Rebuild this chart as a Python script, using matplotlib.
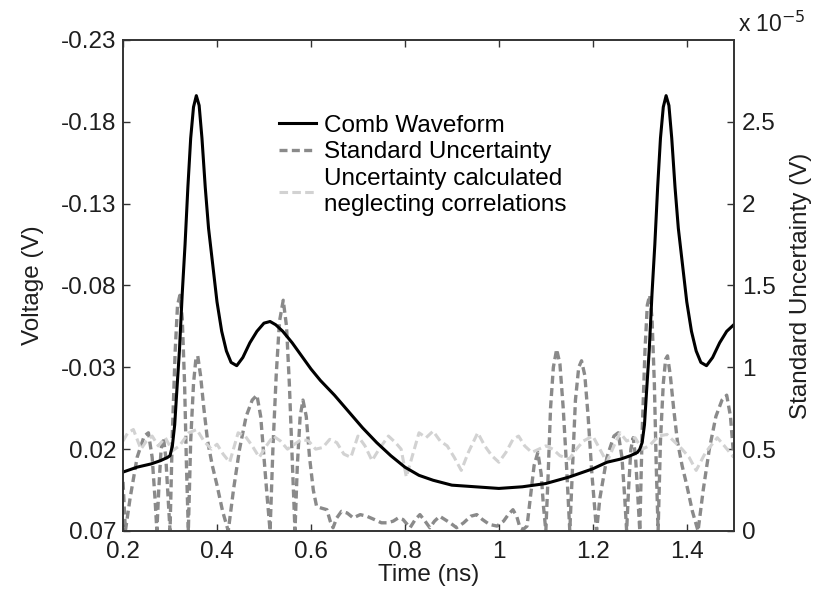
import matplotlib
matplotlib.use('Agg')
from matplotlib import pyplot as plt

plt.rcParams['font.family'] = ['Liberation Sans', 'DejaVu Sans']

# comb waveform (left axis, V)
t_comb = [0.200, 0.230, 0.260, 0.280, 0.295, 0.300, 0.305, 0.310, 0.315, 0.320,
          0.326, 0.332, 0.338, 0.344, 0.350, 0.356, 0.362, 0.368, 0.375, 0.382,
          0.390, 0.400, 0.410, 0.420, 0.430, 0.442, 0.455, 0.470, 0.485, 0.500,
          0.513, 0.525, 0.540, 0.560, 0.580, 0.600, 0.620, 0.650, 0.680, 0.710,
          0.740, 0.770, 0.800, 0.830, 0.860, 0.900, 0.950, 1.000, 1.050, 1.100,
          1.150, 1.200, 1.230, 1.260, 1.280, 1.295, 1.300, 1.305, 1.310, 1.315,
          1.320, 1.326, 1.332, 1.338, 1.344, 1.350, 1.356, 1.362, 1.368, 1.375,
          1.382, 1.390, 1.400, 1.410, 1.420, 1.430, 1.442, 1.455, 1.470, 1.485,
          1.500]
v_comb = [0.034, 0.031, 0.029, 0.027, 0.025, 0.024, 0.018, 0.005, -0.018, -0.040,
          -0.075, -0.105, -0.140, -0.170, -0.189, -0.196, -0.190, -0.170, -0.140, -0.115,
          -0.095, -0.070, -0.052, -0.040, -0.033, -0.031, -0.036, -0.045, -0.052, -0.057,
          -0.058, -0.056, -0.052, -0.045, -0.037, -0.029, -0.022, -0.013, -0.003, 0.007,
          0.016, 0.024, 0.031, 0.036, 0.039, 0.042, 0.043, 0.044, 0.043, 0.041,
          0.037, 0.032, 0.028, 0.026, 0.024, 0.022, 0.020, 0.016, 0.005, -0.018,
          -0.040, -0.075, -0.105, -0.140, -0.170, -0.189, -0.196, -0.190, -0.170, -0.140,
          -0.115, -0.095, -0.070, -0.052, -0.040, -0.033, -0.031, -0.036, -0.045, -0.052,
          -0.056]

# standard uncertainty (right axis, x 1e-5 V)
t_std = [0.200, 0.205, 0.215, 0.230, 0.245, 0.254, 0.262, 0.268, 0.272, 0.276,
         0.281, 0.286, 0.291, 0.296, 0.300, 0.305, 0.311, 0.316, 0.321, 0.326,
         0.331, 0.335, 0.339, 0.344, 0.350, 0.355, 0.359, 0.365, 0.372, 0.380,
         0.390, 0.400, 0.412, 0.424, 0.435, 0.448, 0.462, 0.475, 0.485, 0.493,
         0.500, 0.507, 0.513, 0.519, 0.526, 0.533, 0.541, 0.548, 0.554, 0.560,
         0.566, 0.571, 0.577, 0.583, 0.590, 0.597, 0.605, 0.612, 0.622, 0.634,
         0.641, 0.647, 0.655, 0.665, 0.677, 0.690, 0.705, 0.719, 0.735, 0.750,
         0.762, 0.775, 0.786, 0.796, 0.811, 0.822, 0.832, 0.843, 0.853, 0.863,
         0.874, 0.885, 0.896, 0.910, 0.925, 0.940, 0.953, 0.965, 0.980, 0.996,
         1.010, 1.020, 1.030, 1.038, 1.045, 1.052, 1.060, 1.067, 1.075, 1.083,
         1.090, 1.095, 1.100, 1.105, 1.110, 1.116, 1.123, 1.130, 1.137, 1.144,
         1.151, 1.157, 1.163, 1.170, 1.176, 1.183, 1.190, 1.198, 1.208, 1.215,
         1.230, 1.245, 1.254, 1.262, 1.268, 1.272, 1.276, 1.281, 1.286, 1.291,
         1.296, 1.300, 1.305, 1.311, 1.316, 1.321, 1.326, 1.331, 1.335, 1.339,
         1.344, 1.350, 1.355, 1.359, 1.365, 1.372, 1.380, 1.390, 1.400, 1.412,
         1.424, 1.435, 1.448, 1.462, 1.475, 1.485, 1.493, 1.500]
u_std = [0.30, 0.00, 0.20, 0.45, 0.58, 0.60, 0.45, 0.20, 0.00, 0.25,
         0.50, 0.57, 0.45, 0.20, 0.00, 0.60, 1.10, 1.38, 1.44, 1.30,
         0.90, 0.40, 0.00, 0.55, 0.90, 1.05, 1.07, 0.95, 0.75, 0.55,
         0.40, 0.28, 0.12, 0.00, 0.25, 0.50, 0.70, 0.80, 0.83, 0.70,
         0.45, 0.20, 0.00, 0.50, 0.95, 1.28, 1.41, 1.25, 0.90, 0.45,
         0.00, 0.40, 0.70, 0.80, 0.70, 0.45, 0.25, 0.15, 0.14, 0.13,
         0.06, 0.02, 0.08, 0.12, 0.11, 0.08, 0.10, 0.09, 0.07, 0.05,
         0.05, 0.06, 0.08, 0.07, 0.02, 0.07, 0.10, 0.06, 0.02, 0.06,
         0.09, 0.07, 0.05, 0.02, 0.05, 0.09, 0.10, 0.07, 0.04, 0.03,
         0.06, 0.10, 0.13, 0.09, 0.02, 0.01, 0.03, 0.20, 0.40, 0.48,
         0.35, 0.15, 0.00, 0.35, 0.75, 1.00, 1.11, 1.02, 0.75, 0.40,
         0.00, 0.40, 0.80, 1.00, 1.04, 0.95, 0.70, 0.35, 0.00, 0.20,
         0.45, 0.58, 0.60, 0.45, 0.20, 0.00, 0.25, 0.50, 0.57, 0.45,
         0.20, 0.00, 0.60, 1.10, 1.38, 1.44, 1.30, 0.90, 0.40, 0.00,
         0.55, 0.90, 1.05, 1.07, 0.95, 0.75, 0.55, 0.40, 0.28, 0.12,
         0.00, 0.25, 0.50, 0.70, 0.80, 0.83, 0.70, 0.45]

# uncertainty neglecting correlations (right axis, x 1e-5 V)
t_nc = [0.200, 0.210, 0.222, 0.238, 0.250, 0.262, 0.275, 0.290, 0.305, 0.320,
        0.340, 0.357, 0.372, 0.388, 0.400, 0.413, 0.427, 0.445, 0.460, 0.475,
        0.490, 0.505, 0.520, 0.535, 0.550, 0.565, 0.580, 0.595, 0.610, 0.625,
        0.640, 0.655, 0.670, 0.685, 0.700, 0.715, 0.730, 0.745, 0.765, 0.780,
        0.792, 0.803, 0.815, 0.830, 0.845, 0.860, 0.875, 0.890, 0.905, 0.920,
        0.935, 0.955, 0.970, 0.985, 1.000, 1.015, 1.030, 1.042, 1.055, 1.070,
        1.085, 1.100, 1.115, 1.130, 1.150, 1.165, 1.180, 1.200, 1.215, 1.230,
        1.245, 1.258, 1.272, 1.290, 1.305, 1.320, 1.340, 1.358, 1.372, 1.390,
        1.405, 1.420, 1.440, 1.465, 1.480, 1.500]
u_nc = [0.55, 0.60, 0.62, 0.50, 0.55, 0.58, 0.52, 0.57, 0.49, 0.52,
        0.60, 0.62, 0.55, 0.50, 0.53, 0.47, 0.42, 0.60, 0.58, 0.52,
        0.45, 0.52, 0.58, 0.55, 0.50, 0.53, 0.56, 0.55, 0.50, 0.51,
        0.56, 0.54, 0.47, 0.45, 0.58, 0.52, 0.43, 0.50, 0.58, 0.54,
        0.50, 0.33, 0.45, 0.60, 0.57, 0.61, 0.55, 0.52, 0.45, 0.37,
        0.48, 0.60, 0.52, 0.46, 0.42, 0.48, 0.56, 0.58, 0.52, 0.48,
        0.50, 0.52, 0.50, 0.46, 0.44, 0.50, 0.55, 0.58, 0.50, 0.42,
        0.52, 0.60, 0.55, 0.57, 0.50, 0.52, 0.58, 0.59, 0.55, 0.50,
        0.45, 0.37, 0.48, 0.57, 0.52, 0.45]

left_ticks = [0.07, 0.02, -0.03, -0.08, -0.13, -0.18, -0.23]
left_labels = ['0.07', '0.02', '-0.03', '-0.08', '-0.13', '-0.18', '-0.23']
right_ticks = [0, 0.5, 1, 1.5, 2, 2.5]
right_labels = ['0', '0.5', '1', '1.5', '2', '2.5']
x_ticks = [0.2, 0.4, 0.6, 0.8, 1.0, 1.2, 1.4]
x_labels = ['0.2', '0.4', '0.6', '0.8', '1', '1.2', '1.4']

fs = 17.5
axis_col = '#333333'
text_col = '#1e1e1e'

fig = plt.figure(figsize=(8.17, 5.89), dpi=100)
ax = fig.add_axes([0.1506, 0.0985, 0.7475, 0.8336])
ax2 = ax.twinx()
ax.set_zorder(ax2.get_zorder() + 1)
ax.patch.set_visible(False)

l1, = ax.plot(t_comb, v_comb, color='black', lw=2.2, label='Comb Waveform')
l2, = ax2.plot(t_std, u_std, color='#8a8a8a', ls=(0, (2.4, 1.3)), lw=2.4,
               label='Standard Uncertainty')
l3, = ax2.plot(t_nc, u_nc, color='#d2d2d2', ls=(0, (2.8, 1.4)), lw=2.2,
               label='Uncertainty calculated\nneglecting correlations')

ax.set_xlim(0.2, 1.5)
ax.set_ylim(0.07, -0.23)
ax.set_yticks(left_ticks)
ax.set_yticklabels(left_labels)
ax.set_xticks(x_ticks)
ax.set_xticklabels(x_labels)
ax.tick_params(direction='in', length=5, width=1, labelsize=fs, colors=axis_col,
               labelcolor=text_col, top=True, right=False)
ax.tick_params(axis='x', pad=7)
ax.tick_params(axis='y', pad=5)
ax.set_xlabel('Time (ns)', fontsize=fs, labelpad=1, color=text_col)
ax.set_ylabel('Voltage (V)', fontsize=fs, labelpad=12, color=text_col)

ax2.set_ylim(0, 3)
ax2.set_yticks(right_ticks)
ax2.set_yticklabels(right_labels)
ax2.tick_params(direction='in', length=5, width=1, labelsize=fs, colors=axis_col,
                labelcolor=text_col, pad=6)
ax2.set_ylabel('Standard Uncertainty (V)', fontsize=fs, labelpad=10, color=text_col)

for a in (ax, ax2):
    for s in a.spines.values():
        s.set_color(axis_col)
        s.set_linewidth(1.2)

fig.text(0.903, 0.958, r'x 10$^{-5}$', fontsize=fs - 1, color=text_col, ha='left', va='center')

ax.legend(handles=[l1, l2, l3], loc='upper left', bbox_to_anchor=(0.24, 0.868),
          frameon=False, fontsize=fs, handlelength=1.5, handletextpad=0.35,
          labelspacing=0.2, borderaxespad=0)

fig.savefig('out.png', dpi=100)
